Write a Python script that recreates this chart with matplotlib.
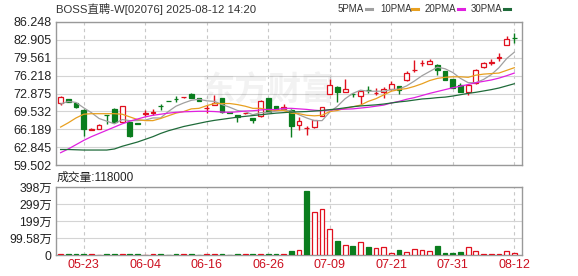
import numpy as np
import matplotlib.pyplot as plt
from matplotlib.lines import Line2D

plt.rcParams['font.family'] = ['Liberation Sans', 'Noto Sans CJK SC', 'DejaVu Sans']

# daily candles, 05-20 .. 08-12
opens = [71.1, 71.85, 71.1, 69.8, 66.1, 66.3, 68.9, 70.0, 67.6, 67.6,
         67.3, 69.1, 69.3, 70.6, 71.5, 71.9, 72.15, 72.8, 72.0, 70.1,
         70.75, 72.0, 69.4, 68.85, 69.2, 68.3, 68.6, 72.0, 70.5, 69.95,
         69.8, 67.0, 66.4, 66.6, 68.7, 72.8, 74.1, 73.2, 72.85, 72.4,
         73.55, 72.95, 73.2, 73.7, 74.25, 75.4, 77.2, 78.5, 78.4, 78.2,
         77.1, 75.6, 74.4, 73.2, 74.8, 77.8, 78.6, 79.6, 82.0, 83.3]
highs = [72.4, 71.9, 71.1, 69.9, 66.4, 67.1, 68.9, 70.1, 70.5, 67.6,
         67.3, 69.8, 70.0, 70.9, 71.5, 72.4, 72.2, 72.9, 72.0, 70.7,
         72.6, 72.1, 69.4, 68.9, 69.3, 68.3, 71.7, 72.0, 70.5, 70.9,
         69.9, 68.5, 66.8, 68.0, 70.4, 75.6, 74.2, 75.6, 73.0, 73.3,
         74.3, 73.9, 74.1, 75.2, 74.3, 77.1, 79.1, 79.1, 79.3, 78.3,
         77.1, 75.6, 74.8, 74.5, 77.4, 78.8, 79.3, 80.4, 83.6, 84.2]
lows = [70.7, 71.2, 70.2, 64.9, 66.0, 66.2, 67.2, 67.4, 67.5, 64.7,
        67.2, 68.7, 68.9, 69.8, 71.4, 71.3, 72.1, 72.0, 71.5, 69.2,
        70.7, 69.3, 69.3, 67.55, 69.1, 67.4, 68.4, 69.4, 69.9, 69.9,
        64.7, 66.0, 65.1, 66.5, 68.6, 72.7, 71.3, 73.1, 72.2, 71.0,
        73.0, 72.6, 72.0, 73.6, 72.8, 75.3, 76.9, 78.0, 78.3, 76.3,
        75.4, 73.9, 73.1, 72.6, 74.7, 77.6, 78.2, 78.9, 81.9, 82.3]
closes = [72.2, 71.3, 70.3, 66.2, 66.3, 67.0, 68.85, 67.5, 70.5, 65.0,
          67.2, 69.2, 69.4, 70.5, 71.45, 71.85, 72.2, 72.0, 71.5, 70.2,
          71.1, 69.4, 69.3, 68.5, 69.25, 67.9, 71.5, 69.4, 70.0, 70.35,
          66.8, 67.7, 66.4, 67.9, 70.4, 74.5, 73.2, 73.7, 72.8, 73.3,
          73.5, 73.0, 73.7, 74.65, 73.5, 76.7, 77.3, 78.6, 78.9, 77.3,
          75.4, 73.9, 73.2, 74.45, 77.3, 78.5, 78.7, 79.7, 83.0, 83.25]
volumes = [45000, 30000, 52000, 61000, 38000, 27000, 44000, 50000, 36000, 58000,
           33000, 29000, 41000, 35000, 26000, 48000, 31000, 39000, 27000, 42000,
           36000, 47000, 25000, 40000, 30000, 43000, 52000, 46000, 38000, 60000,
           234000, 293000, 3750000, 2500000, 2680000, 1510000, 820000, 590000, 530000, 740000,
           470000, 390000, 450000, 130000, 290000, 160000, 330000, 270000, 230000, 530000,
           120000, 120000, 180000, 450000, 230000, 60000, 60000, 60000, 230000, 118000]
# doji days whose volume bar takes the other colour
vol_up_override = {32: False, 59: True}

ma5 = [70.9, 71.4, 71.2, 70.2, 69.3, 68.2, 67.7, 67.2, 68.0, 67.8,
       67.8, 67.9, 68.3, 68.3, 69.5, 70.5, 71.1, 71.6, 71.8, 71.5,
       71.4, 70.8, 70.3, 69.7, 69.5, 68.9, 69.3, 69.3, 69.6, 69.8,
       69.6, 68.9, 68.3, 67.8, 67.8, 69.4, 70.5, 71.9, 72.9, 73.5,
       73.3, 73.3, 73.3, 73.6, 73.7, 74.3, 75.2, 76.2, 77.0, 77.8,
       77.5, 76.8, 75.7, 74.9, 74.9, 75.5, 76.4, 77.7, 79.4, 80.6]
ma10 = [66.6, 67.4, 68.3, 69.0, 69.1, 69.1, 69.1, 69.1, 69.0, 68.5,
        68.0, 67.8, 67.8, 68.2, 68.7, 69.2, 69.5, 70.0, 70.1, 70.6,
        71.0, 71.0, 71.0, 70.8, 70.5, 70.1, 70.1, 69.8, 69.7, 69.7,
        69.2, 69.1, 68.8, 68.7, 68.8, 69.5, 69.7, 70.1, 70.4, 70.7,
        71.4, 71.9, 72.6, 73.3, 73.6, 73.8, 74.2, 74.7, 75.3, 75.7,
        75.9, 76.0, 76.0, 75.9, 76.3, 76.5, 76.6, 76.7, 77.2, 77.7]
ma20 = [61.8, 62.5, 63.3, 64.1, 64.8, 65.4, 66.0, 66.6, 67.2, 67.7,
        68.1, 68.5, 68.8, 69.0, 69.2, 69.35, 69.45, 69.5, 69.55, 69.55,
        69.5, 69.4, 69.35, 69.45, 69.6, 69.65, 69.8, 69.9, 69.85, 70.1,
        70.1, 70.0, 69.9, 69.75, 69.65, 69.8, 69.9, 69.95, 70.0, 70.15,
        70.3, 70.5, 70.7, 71.1, 71.4, 71.8, 72.1, 72.5, 72.9, 73.25,
        73.6, 73.95, 74.25, 74.55, 74.9, 75.15, 75.4, 75.75, 76.2, 76.7]
ma30 = [62.4, 62.4, 62.35, 62.3, 62.3, 62.3, 62.3, 62.5, 63.0, 63.4,
        63.8, 64.3, 64.8, 65.4, 65.9, 66.3, 66.7, 67.0, 67.3, 67.6,
        67.85, 68.05, 68.25, 68.45, 68.6, 68.75, 68.9, 69.05, 69.2, 69.3,
        69.4, 69.45, 69.5, 69.6, 69.7, 69.85, 70.0, 70.2, 70.4, 70.55,
        70.65, 70.75, 70.9, 71.1, 71.3, 71.45, 71.65, 71.85, 71.95, 72.1,
        72.2, 72.4, 72.65, 72.9, 73.1, 73.35, 73.6, 73.9, 74.3, 74.7]

date_pos = [3, 11, 19, 27, 35, 43, 51, 59]
date_labels = ['05-23', '06-04', '06-16', '06-26', '07-09', '07-21', '07-31', '08-12']
price_ticks = [59.502, 62.845, 66.189, 69.532, 72.875, 76.218, 79.561, 82.905, 86.248]
vol_ticks = [0, 995800, 1991600, 2987400, 3983200]
vol_labels = ['0', '99.58万', '199万', '299万', '398万']
ma_names = ['5PMA', '10PMA', '20PMA', '30PMA']

RED = '#e0101e'
GREEN = '#0a7d1e'
ma_colors = ['#a0a0a0', '#e8a020', '#e020e0', '#1f6b3a']
W, H = 578, 276

fig = plt.figure(figsize=(W / 100, H / 100), dpi=100)
ax = fig.add_axes([56 / W, 1 - 165 / H, 466 / W, 143 / H])
axv = fig.add_axes([56 / W, 1 - 255 / H, 466 / W, 68 / H])

x = np.arange(len(closes))
o = np.array(opens); c = np.array(closes)
up = c >= o
cols = [RED if u else GREEN for u in up]

ax.vlines(x, lows, highs, colors=cols, lw=1, zorder=2)
ax.bar(x, np.maximum(np.abs(c - o), 0.06), bottom=np.minimum(o, c), width=0.62,
       color=['white' if u else GREEN for u in up], edgecolor=cols, lw=0.9, zorder=3)
for vals, col in zip([ma5, ma10, ma20, ma30], ma_colors):
    ax.plot(x, vals, color=col, lw=0.9, zorder=4)

vup = [vol_up_override.get(i, bool(u)) for i, u in enumerate(c > o)]
vcols = [RED if u else GREEN for u in vup]
axv.bar(x, volumes, width=0.62, color=['white' if u else GREEN for u in vup],
        edgecolor=vcols, lw=0.9, zorder=3)

ax.text(27, 73.3, '东方财富', fontsize=24, fontweight='bold', color='#000000',
        alpha=0.05, ha='center', va='center', zorder=1)

for a in (ax, axv):
    a.set_xlim(-0.6, 60.0)
    a.set_xticks(date_pos)
    a.tick_params(length=0, pad=3, labelsize=9, labelcolor='#222222')
    a.grid(axis='x', color='#c8c8c8', ls=(0, (3, 3)), lw=0.8)
    a.grid(axis='y', color='#d4d4d4', ls='-', lw=0.8)
    a.set_axisbelow(True)
    for s in a.spines.values():
        s.set_color('#999999')
        s.set_linewidth(1)

ax.set_ylim(price_ticks[0], price_ticks[-1])
ax.set_yticks(price_ticks)
ax.set_yticklabels(['%.3f' % v for v in price_ticks])
ax.set_xticklabels([])

axv.set_ylim(0, vol_ticks[-1])
axv.set_yticks(vol_ticks)
axv.set_yticklabels(vol_labels, fontsize=8.8)
axv.set_xticklabels(date_labels, color='#cc1020', fontsize=9)

fig.text(56 / W, 1 - 9 / H, 'BOSS直聘-W[02076] 2025-08-12 14:20', fontsize=8.2,
         color='#333333', va='center')
fig.text(57 / W, 1 - 178 / H, '成交量:118000', fontsize=8.5, color='#222222', va='center')

leg_x = [338, 380, 425, 471]
mark_x = [366, 412, 458, 504]
for name, col, tx, mx in zip(ma_names, ma_colors, leg_x, mark_x):
    fig.text(tx / W, 1 - 9 / H, name, fontsize=7, color='#333333', va='center')
    fig.add_artist(Line2D([mx / W, (mx + 6) / W], [1 - 9 / H, 1 - 9 / H],
                          color=col, lw=2.2, transform=fig.transFigure))

fig.savefig('out.png', dpi=100)
